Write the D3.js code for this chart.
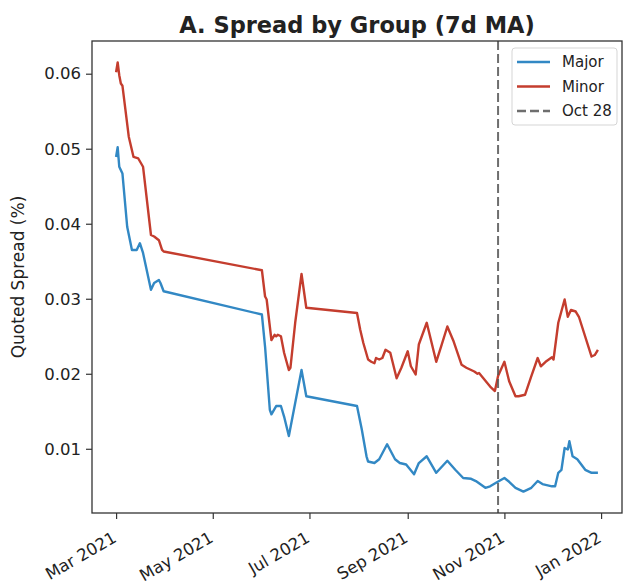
<!DOCTYPE html>
<html>
<head>
<meta charset="utf-8">
<script src="https://cdn.jsdelivr.net/npm/d3@7"></script>
<style>
  body { margin: 0; background: #fff; }
  text { font-family: "DejaVu Sans", sans-serif; fill: #222; }
</style>
</head>
<body>
<div id="vis"></div>
<script>
// values
var majorDates = ['2021-03-01', '2021-03-02', '2021-03-03', '2021-03-05', '2021-03-08', '2021-03-11',
  '2021-03-14', '2021-03-16', '2021-03-18', '2021-03-23', '2021-03-25', '2021-03-28', '2021-03-29',
  '2021-03-31', '2021-06-01', '2021-06-03', '2021-06-06', '2021-06-07', '2021-06-10', '2021-06-13',
  '2021-06-15', '2021-06-18', '2021-06-22', '2021-06-26', '2021-06-29', '2021-07-31', '2021-08-03',
  '2021-08-06', '2021-08-07', '2021-08-11', '2021-08-14', '2021-08-19', '2021-08-24', '2021-08-27',
  '2021-08-31', '2021-09-05', '2021-09-08', '2021-09-13', '2021-09-19', '2021-09-26', '2021-10-01',
  '2021-10-06', '2021-10-11', '2021-10-14', '2021-10-20', '2021-10-23', '2021-10-27', '2021-11-01',
  '2021-11-04', '2021-11-08', '2021-11-13', '2021-11-18', '2021-11-22', '2021-11-25', '2021-12-01',
  '2021-12-03', '2021-12-05', '2021-12-07', '2021-12-09', '2021-12-11', '2021-12-12', '2021-12-14',
  '2021-12-17', '2021-12-22', '2021-12-26', '2021-12-30'];
var majorValues = [0.0489, 0.0502, 0.0476, 0.0467, 0.0396, 0.0365,
  0.0365, 0.0374, 0.0361, 0.0312, 0.0321, 0.0325, 0.0321,
  0.0310, 0.0279, 0.0236, 0.0152, 0.0146, 0.0157, 0.0157,
  0.0143, 0.0117, 0.0161, 0.0205, 0.0170, 0.0157, 0.0126,
  0.0090, 0.0083, 0.0081, 0.0086, 0.0106, 0.0086, 0.0081,
  0.0079, 0.0066, 0.0081, 0.0090, 0.0068, 0.0084, 0.0072,
  0.0061, 0.0060, 0.0057, 0.0048, 0.0050, 0.0055, 0.0061,
  0.0056, 0.0048, 0.0043, 0.0048, 0.0057, 0.0053, 0.0050,
  0.0050, 0.0068, 0.0072, 0.0101, 0.0099, 0.0110, 0.0090,
  0.0086, 0.0072, 0.0068, 0.0068];

var minorDates = ['2021-03-01', '2021-03-02', '2021-03-03', '2021-03-04', '2021-03-05', '2021-03-09',
  '2021-03-12', '2021-03-15', '2021-03-18', '2021-03-23', '2021-03-25', '2021-03-28', '2021-03-30',
  '2021-03-31', '2021-06-01', '2021-06-03', '2021-06-04', '2021-06-07', '2021-06-09', '2021-06-10',
  '2021-06-11', '2021-06-13', '2021-06-15', '2021-06-18', '2021-06-19', '2021-06-22', '2021-06-26',
  '2021-06-29', '2021-07-31', '2021-08-02', '2021-08-04', '2021-08-07', '2021-08-09', '2021-08-11',
  '2021-08-12', '2021-08-14', '2021-08-16', '2021-08-18', '2021-08-21', '2021-08-25', '2021-08-28',
  '2021-09-01', '2021-09-03', '2021-09-06', '2021-09-08', '2021-09-13', '2021-09-19', '2021-09-22',
  '2021-09-26', '2021-09-30', '2021-10-05', '2021-10-08', '2021-10-13', '2021-10-15', '2021-10-16',
  '2021-10-23', '2021-10-26', '2021-10-28', '2021-11-01', '2021-11-04', '2021-11-08', '2021-11-10',
  '2021-11-14', '2021-11-18', '2021-11-22', '2021-11-24', '2021-11-27', '2021-12-01', '2021-12-02',
  '2021-12-05', '2021-12-09', '2021-12-11', '2021-12-13', '2021-12-16', '2021-12-18', '2021-12-26',
  '2021-12-28', '2021-12-30'];
var minorValues = [0.0602, 0.0615, 0.0598, 0.0587, 0.0584, 0.0516,
  0.0489, 0.0487, 0.0476, 0.0385, 0.0383, 0.0378, 0.0365,
  0.0363, 0.0338, 0.0303, 0.0299, 0.0245, 0.0252, 0.0250,
  0.0252, 0.0250, 0.0228, 0.0205, 0.0208, 0.0268, 0.0333,
  0.0288, 0.0281, 0.0259, 0.0241, 0.0219, 0.0216, 0.0214,
  0.0221, 0.0219, 0.0221, 0.0232, 0.0228, 0.0194, 0.0208,
  0.0230, 0.0210, 0.0199, 0.0239, 0.0268, 0.0216, 0.0236,
  0.0263, 0.0243, 0.0212, 0.0208, 0.0203, 0.0200, 0.0201,
  0.0183, 0.0177, 0.0197, 0.0216, 0.0190, 0.0170, 0.0170,
  0.0172, 0.0197, 0.0221, 0.0210, 0.0216, 0.0222, 0.0219,
  0.0268, 0.0299, 0.0276, 0.0285, 0.0283, 0.0276, 0.0223,
  0.0225, 0.0232];

var eventDate = '2021-10-28';
var xTickDates = ['2021-03-01', '2021-05-01', '2021-07-01', '2021-09-01', '2021-11-01', '2022-01-01'];
var yTicks = [0.01, 0.02, 0.03, 0.04, 0.05, 0.06];
var seriesNames = ['Major', 'Minor', 'Oct 28'];

var width = 624;
var height = 588;
var margin = { top: 41, right: 2, bottom: 75, left: 92 };
var innerW = width - margin.left - margin.right;
var innerH = height - margin.top - margin.bottom;

var blue = '#3288C4';
var red = '#C43D2E';

var parseDate = d3.timeParse('%Y-%m-%d');

function toPoints(dates, values) {
  return dates.map(function (d, i) {
    return { date: parseDate(d), value: values[i] };
  });
}

var major = toPoints(majorDates, majorValues);
var minor = toPoints(minorDates, minorValues);
var all = major.concat(minor);

// matplotlib style 5% margins
var xExt = d3.extent(all, function (d) { return d.date; });
var xPad = (xExt[1] - xExt[0]) * 0.05;
var yExt = d3.extent(all, function (d) { return d.value; });
var yPad = (yExt[1] - yExt[0]) * 0.05;

var x = d3.scaleTime()
  .domain([new Date(+xExt[0] - xPad), new Date(+xExt[1] + xPad)])
  .range([0, innerW]);

var y = d3.scaleLinear()
  .domain([yExt[0] - yPad, yExt[1] + yPad])
  .range([innerH, 0]);

var svg = d3.select('#vis')
  .append('svg')
  .attr('width', width)
  .attr('height', height);

var g = svg.append('g')
  .attr('transform', 'translate(' + margin.left + ',' + margin.top + ')');

var line = d3.line()
  .x(function (d) { return x(d.date); })
  .y(function (d) { return y(d.value); });

g.append('path')
  .datum(major)
  .attr('fill', 'none')
  .attr('stroke', blue)
  .attr('stroke-width', 2.4)
  .attr('stroke-linejoin', 'round')
  .attr('d', line);

g.append('path')
  .datum(minor)
  .attr('fill', 'none')
  .attr('stroke', red)
  .attr('stroke-width', 2.4)
  .attr('stroke-linejoin', 'round')
  .attr('d', line);

g.append('line')
  .attr('x1', x(parseDate(eventDate)))
  .attr('x2', x(parseDate(eventDate)))
  .attr('y1', 0)
  .attr('y2', innerH)
  .attr('stroke', '#555')
  .attr('stroke-width', 2)
  .attr('stroke-dasharray', '9,4')
  .attr('opacity', 0.85);

// axes
var yAxis = d3.axisLeft(y)
  .tickValues(yTicks)
  .tickFormat(d3.format('.2f'))
  .tickSize(6)
  .tickPadding(5);

var xAxis = d3.axisBottom(x)
  .tickValues(xTickDates.map(parseDate))
  .tickFormat(d3.timeFormat('%b %Y'))
  .tickSize(6);

var yG = g.append('g').call(yAxis);
yG.select('.domain').remove();
yG.selectAll('line').attr('stroke', '#333').attr('stroke-width', 1.2);
yG.selectAll('text').style('font-size', '16.5px').attr('fill', '#2a2a2a');

var xG = g.append('g')
  .attr('transform', 'translate(0,' + innerH + ')')
  .call(xAxis);
xG.select('.domain').remove();
xG.selectAll('line').attr('stroke', '#333').attr('stroke-width', 1.2);
xG.selectAll('text')
  .style('font-size', '16.5px')
  .attr('fill', '#2a2a2a')
  .attr('text-anchor', 'end')
  .attr('dy', null)
  .attr('y', null)
  .attr('transform', 'translate(1,28) rotate(-30)');

// frame
g.append('rect')
  .attr('width', innerW)
  .attr('height', innerH)
  .attr('fill', 'none')
  .attr('stroke', '#333')
  .attr('stroke-width', 1.3);

// title and y label
svg.append('text')
  .attr('x', margin.left + innerW / 2)
  .attr('y', 33)
  .attr('text-anchor', 'middle')
  .style('font-size', '22.5px')
  .style('font-weight', 'bold')
  .text('A. Spread by Group (7d MA)');

svg.append('text')
  .attr('transform', 'translate(24,' + (margin.top + innerH / 2) + ') rotate(-90)')
  .attr('text-anchor', 'middle')
  .style('font-size', '17px')
  .text('Quoted Spread (%)');

// legend
var legend = svg.append('g')
  .attr('transform', 'translate(512,48)');

legend.append('rect')
  .attr('width', 105)
  .attr('height', 77)
  .attr('rx', 3)
  .attr('fill', '#fff')
  .attr('fill-opacity', 0.8)
  .attr('stroke', '#d5d5d5');

var legendStyles = [
  { color: blue, dash: null },
  { color: red, dash: null },
  { color: '#555', dash: '9,4' }
];

seriesNames.forEach(function (name, i) {
  var row = legend.append('g')
    .attr('transform', 'translate(0,' + (14 + i * 24.5) + ')');
  row.append('line')
    .attr('x1', 5)
    .attr('x2', 38)
    .attr('stroke', legendStyles[i].color)
    .attr('stroke-width', 2.4)
    .attr('stroke-dasharray', legendStyles[i].dash)
    .attr('opacity', i === 2 ? 0.85 : 1);
  row.append('text')
    .attr('x', 50)
    .attr('dy', '0.35em')
    .style('font-size', '15px')
    .text(name);
});
</script>
</body>
</html>
